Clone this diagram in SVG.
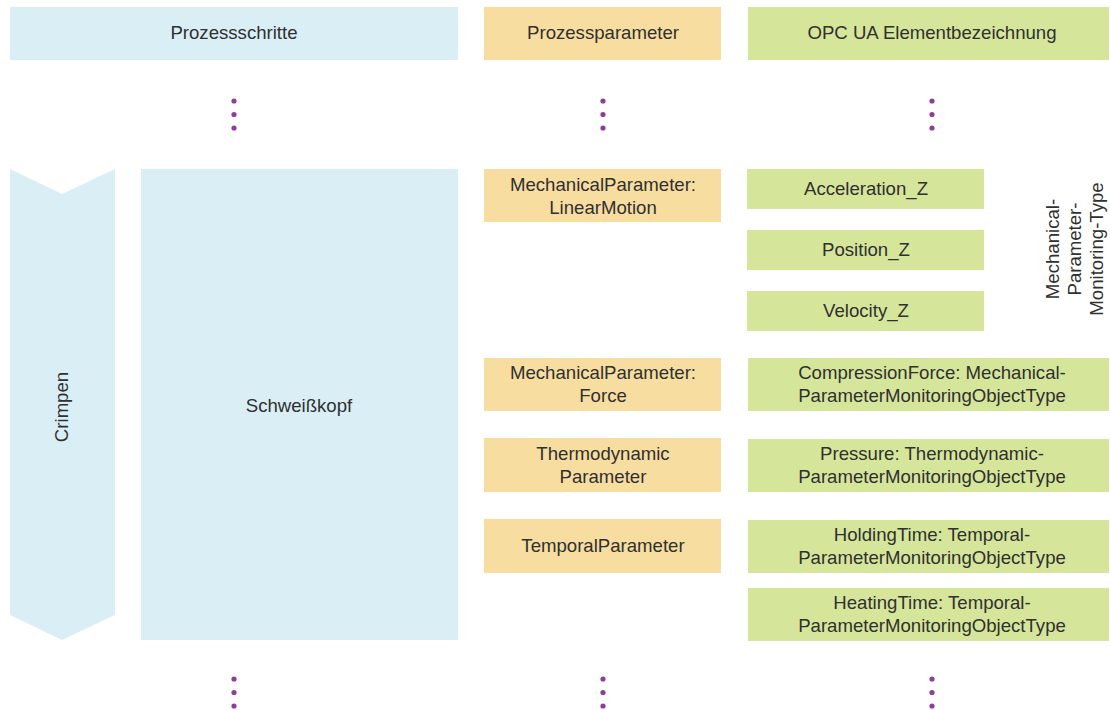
<svg xmlns="http://www.w3.org/2000/svg" width="1110" height="710" viewBox="0 0 1110 710">
  <style>
    .step { fill: #daeef5; }
    .param { fill: #f7dda0; }
    .opc { fill: #d5e59a; }
    .dot { fill: #8e3e9a; }
    text { font-family: "Liberation Sans", Arial, sans-serif; font-size: 18.6px; fill: #303030; text-anchor: middle; }
  </style>
  <defs>
    <g id="vdots">
      <circle class="dot" cx="0" cy="0" r="2.6"/>
      <circle class="dot" cx="0" cy="13.5" r="2.6"/>
      <circle class="dot" cx="0" cy="27" r="2.6"/>
    </g>
  </defs>

  <!-- column headers -->
  <g id="header-steps">
    <rect class="step" x="10" y="7" width="448" height="53"/>
    <text x="234" y="39">Prozessschritte</text>
  </g>
  <g id="header-params">
    <rect class="param" x="484" y="7" width="237" height="53"/>
    <text x="603" y="39">Prozessparameter</text>
  </g>
  <g id="header-opc">
    <rect class="opc" x="748" y="7" width="361" height="53"/>
    <text x="932" y="39">OPC UA Elementbezeichnung</text>
  </g>

  <!-- continuation marks -->
  <g id="ellipsis">
    <use href="#vdots" x="234" y="101"/>
    <use href="#vdots" x="603" y="101"/>
    <use href="#vdots" x="932" y="101"/>
    <use href="#vdots" x="234" y="679"/>
    <use href="#vdots" x="603" y="679"/>
    <use href="#vdots" x="932" y="679"/>
  </g>

  <!-- process step -->
  <g id="step-crimpen">
    <polygon class="step" points="10,169 62,194 115,169 115,615 62,640 10,615"/>
    <text transform="translate(62,407) rotate(-90)" x="0" y="6">Crimpen</text>
  </g>
  <g id="step-schweisskopf">
    <rect class="step" x="141" y="169" width="317" height="471"/>
    <text x="299" y="412">Schweißkopf</text>
  </g>

  <!-- process parameters -->
  <g id="param-linear">
    <rect class="param" x="484" y="169" width="237" height="53"/>
    <text x="603" y="191">MechanicalParameter:</text>
    <text x="603" y="214">LinearMotion</text>
  </g>
  <g id="param-force">
    <rect class="param" x="484" y="358" width="237" height="53"/>
    <text x="603" y="379">MechanicalParameter:</text>
    <text x="603" y="402">Force</text>
  </g>
  <g id="param-thermo">
    <rect class="param" x="484" y="438" width="237" height="54"/>
    <text x="603" y="460">Thermodynamic</text>
    <text x="603" y="483">Parameter</text>
  </g>
  <g id="param-temporal">
    <rect class="param" x="484" y="519" width="237" height="54"/>
    <text x="603" y="552">TemporalParameter</text>
  </g>

  <!-- OPC UA elements -->
  <g id="opc-acceleration">
    <rect class="opc" x="747" y="169" width="237" height="40"/>
    <text x="866" y="195">Acceleration_Z</text>
  </g>
  <g id="opc-position">
    <rect class="opc" x="747" y="230" width="237" height="40"/>
    <text x="866" y="256">Position_Z</text>
  </g>
  <g id="opc-velocity">
    <rect class="opc" x="747" y="291" width="237" height="40"/>
    <text x="866" y="317">Velocity_Z</text>
  </g>
  <g id="opc-type-label">
    <g transform="translate(1075,249) rotate(-90)">
      <text x="0" y="-16">Mechanical-</text>
      <text x="0" y="6">Parameter-</text>
      <text x="0" y="28">Monitoring-Type</text>
    </g>
  </g>
  <g id="opc-compression">
    <rect class="opc" x="748" y="358" width="361" height="53"/>
    <text x="932" y="379">CompressionForce: Mechanical-</text>
    <text x="932" y="402">ParameterMonitoringObjectType</text>
  </g>
  <g id="opc-pressure">
    <rect class="opc" x="748" y="439" width="361" height="53"/>
    <text x="932" y="460">Pressure: Thermodynamic-</text>
    <text x="932" y="483">ParameterMonitoringObjectType</text>
  </g>
  <g id="opc-holding">
    <rect class="opc" x="748" y="520" width="361" height="53"/>
    <text x="932" y="541">HoldingTime: Temporal-</text>
    <text x="932" y="564">ParameterMonitoringObjectType</text>
  </g>
  <g id="opc-heating">
    <rect class="opc" x="748" y="588" width="361" height="53"/>
    <text x="932" y="609">HeatingTime: Temporal-</text>
    <text x="932" y="632">ParameterMonitoringObjectType</text>
  </g>

  <!-- no connectors are drawn between the columns -->
  <g id="connectors"/>
</svg>
